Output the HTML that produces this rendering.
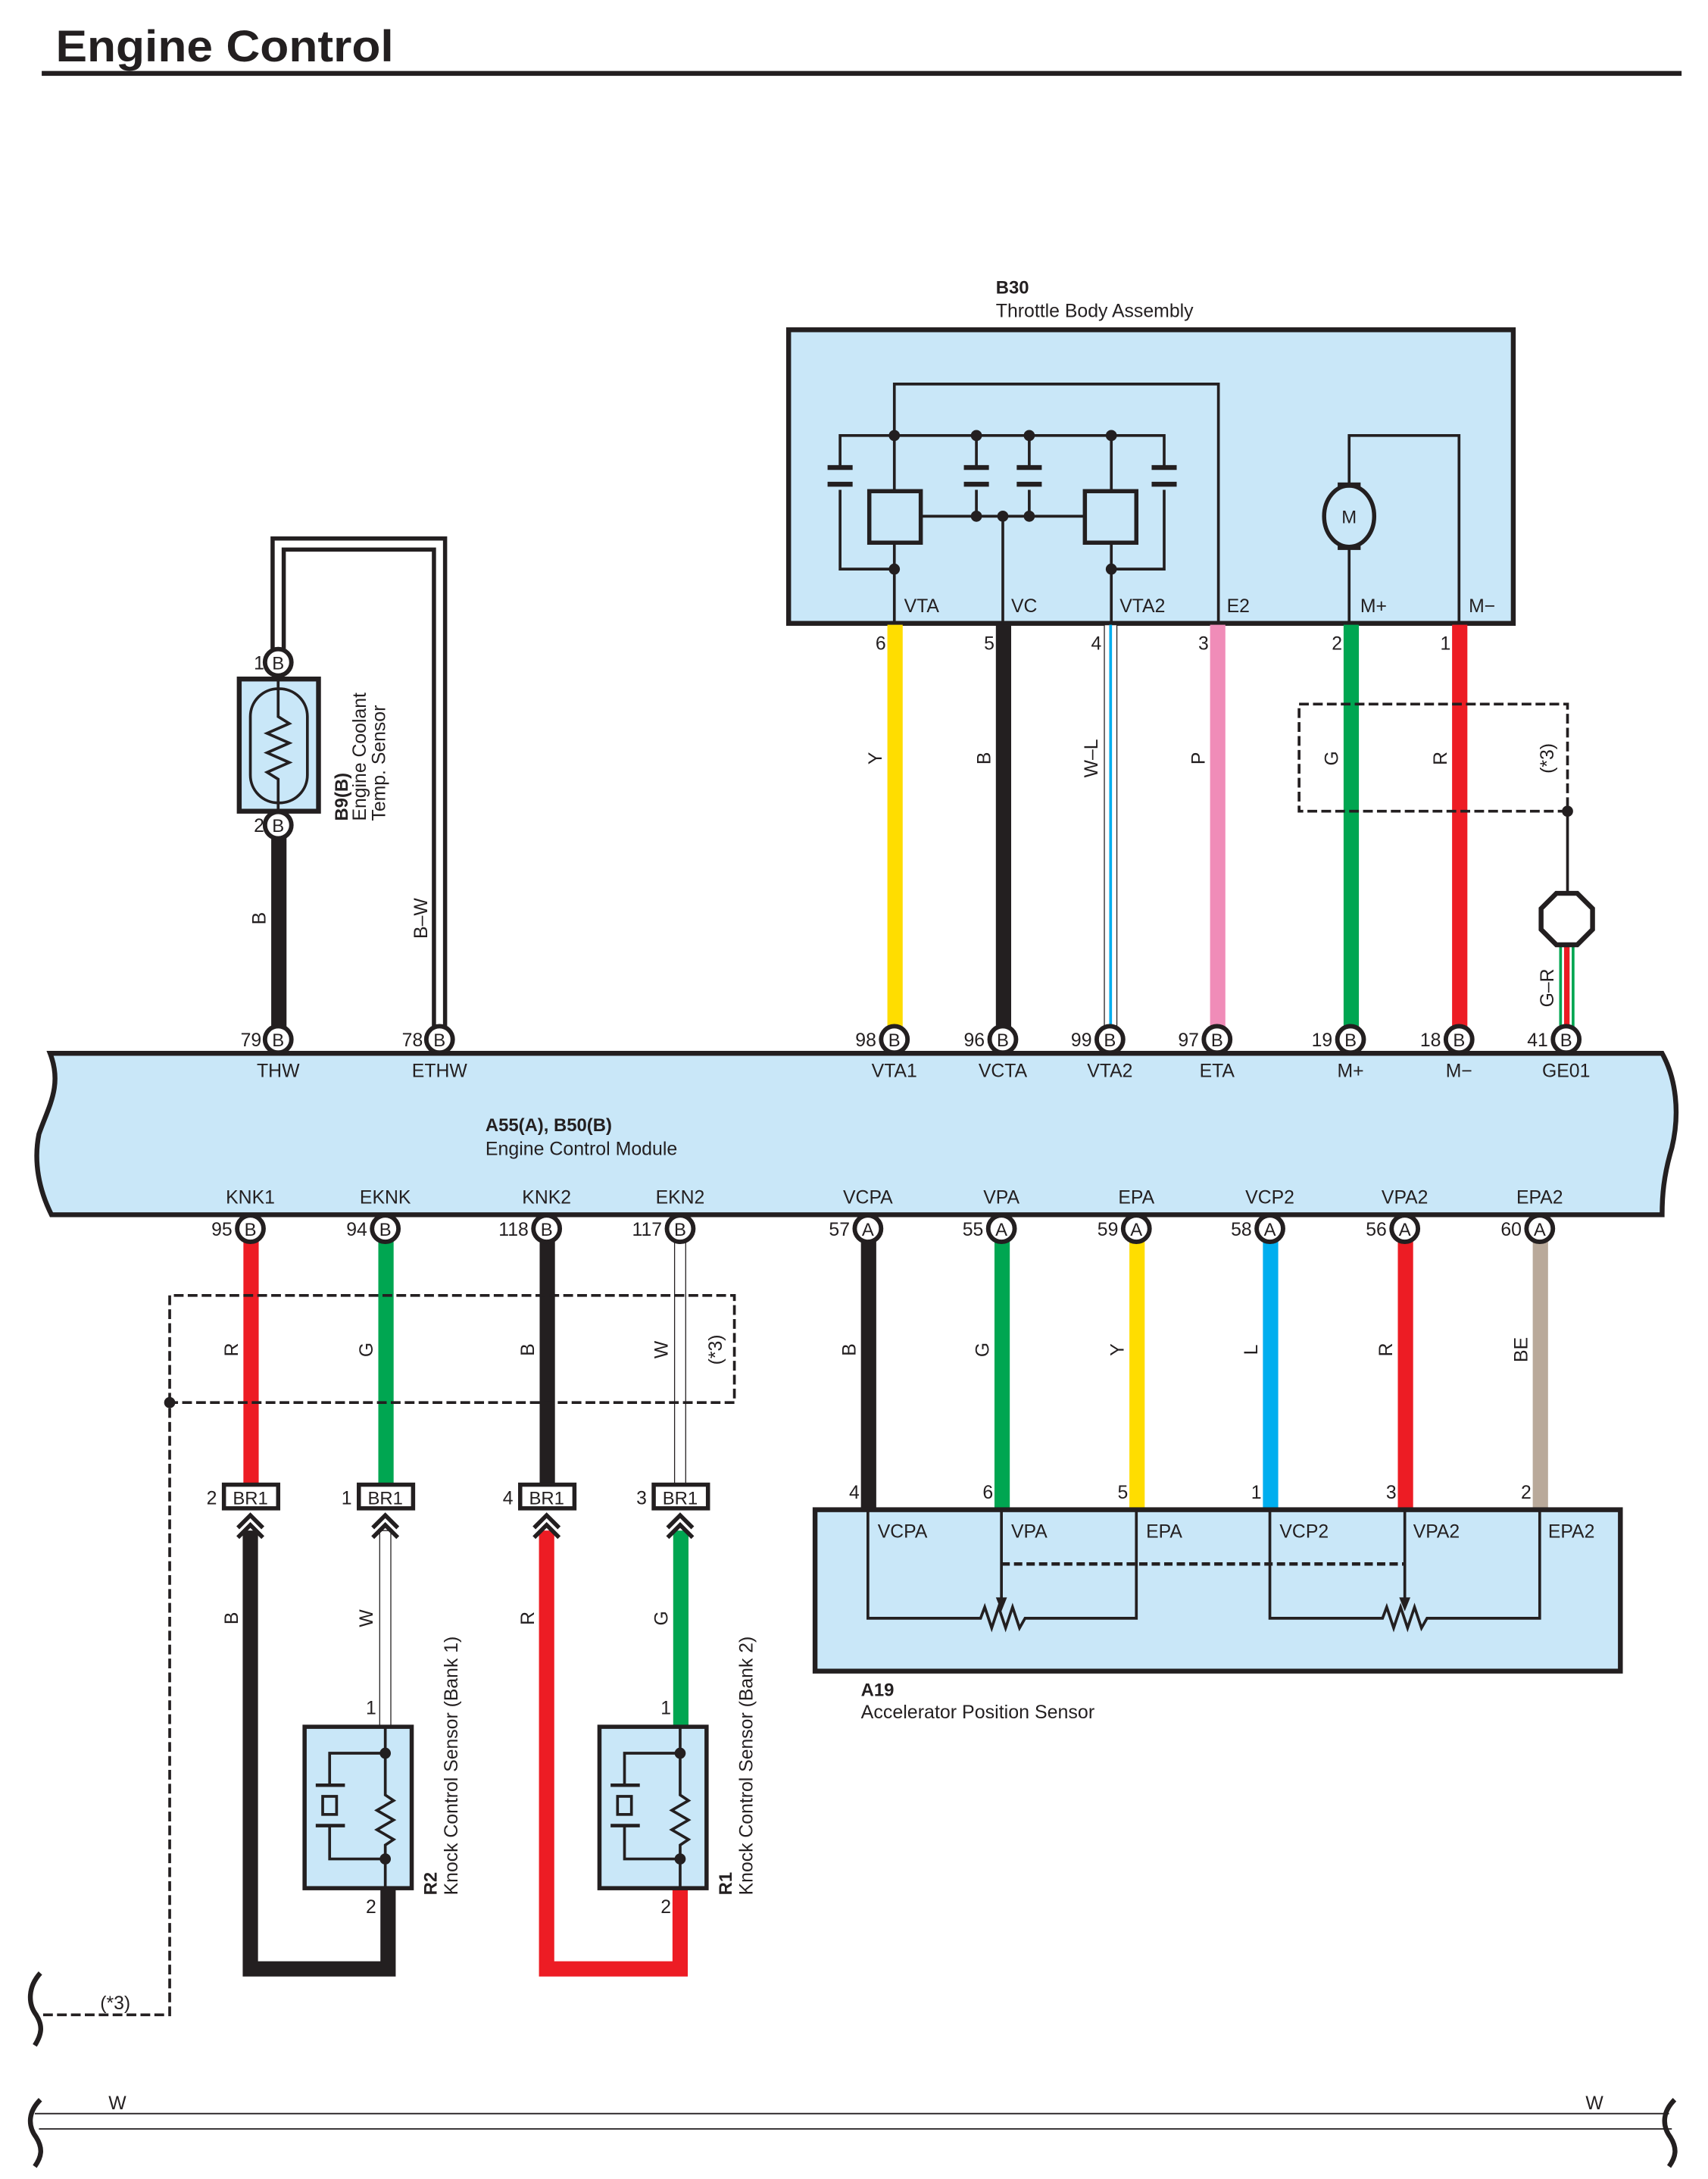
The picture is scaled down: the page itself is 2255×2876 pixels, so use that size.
<!DOCTYPE html>
<html><head><meta charset="utf-8"><style>
html,body{margin:0;padding:0;background:#fff;}
svg{display:block;}
text{font-family:"Liberation Sans",sans-serif;fill:#231f20;}
</style></head><body>
<svg width="2255" height="2876" viewBox="0 0 1228 1566" preserveAspectRatio="none" xmlns="http://www.w3.org/2000/svg">
<defs>
<g id="ch"><path d="M-9,8 L0,-1 L9,8 M-9,15 L0,6 L9,15" fill="none" stroke="#231f20" stroke-width="3"/></g>
</defs>
<!-- Title -->
<text x="40" y="44" font-size="32" font-weight="bold" textLength="243" lengthAdjust="spacingAndGlyphs">Engine Control</text>
<rect x="30" y="51" width="1179" height="3.5" fill="#231f20"/>

<!-- Throttle body -->
<text x="716" y="211" font-size="13" font-weight="bold">B30</text>
<text x="716" y="228" font-size="13.5" textLength="142" lengthAdjust="spacingAndGlyphs">Throttle Body Assembly</text>
<rect x="567" y="237" width="521" height="211" fill="#c9e7f8" stroke="#231f20" stroke-width="3.5"/>
<g fill="none" stroke="#231f20" stroke-width="2">
<path d="M643,448 V276 H876 V448"/>
<path d="M604,336 V313 H837 V336 M604,352 V409 H643 M837,352 V409 H799"/>
<path d="M702,313 V336 M702,352 V371 M740,313 V336 M740,352 V371"/>
<path d="M662,371 H779 M721,371 V448 M799,313 V448"/>
<path d="M970,349 V313 H1049 V448 M970,392 V448"/>
</g>
<g stroke="#231f20" stroke-width="3.5">
<path d="M595,336 H613 M595,348 H613 M693,336 H711 M693,348 H711 M731,336 H749 M731,348 H749 M828,336 H846 M828,348 H846"/>
</g>
<rect x="625" y="353" width="37" height="37" fill="#c9e7f8" stroke="#231f20" stroke-width="3"/>
<rect x="780" y="353" width="37" height="37" fill="#c9e7f8" stroke="#231f20" stroke-width="3"/>
<g fill="#231f20">
<circle cx="643" cy="313" r="4"/><circle cx="702" cy="313" r="4"/><circle cx="740" cy="313" r="4"/><circle cx="799" cy="313" r="4"/>
<circle cx="643" cy="409" r="4"/><circle cx="799" cy="409" r="4"/>
<circle cx="702" cy="371" r="4"/><circle cx="721" cy="371" r="4"/><circle cx="740" cy="371" r="4"/>
</g>
<rect x="963" y="348" width="14" height="46" fill="#c9e7f8" stroke="#231f20" stroke-width="2.5"/>
<ellipse cx="970" cy="371" rx="18" ry="22" fill="#c9e7f8" stroke="#231f20" stroke-width="3"/>
<text x="970" y="376" font-size="13" text-anchor="middle">M</text>
<g font-size="13.5">
<text x="650" y="440">VTA</text><text x="727" y="440">VC</text><text x="805" y="440">VTA2</text>
<text x="882" y="440">E2</text><text x="978" y="440">M+</text><text x="1056" y="440">M−</text>
</g>
<!-- throttle wires -->
<rect x="638" y="449" width="11" height="290" fill="#ffdd00"/>
<rect x="716" y="449" width="11" height="290" fill="#231f20"/>
<rect x="794" y="449" width="9" height="290" fill="#fff" stroke="#231f20" stroke-width="0.7"/>
<rect x="797.5" y="449" width="2" height="290" fill="#00aeef"/>
<rect x="870" y="449" width="11" height="290" fill="#f08cb8"/>
<rect x="966" y="449" width="11" height="290" fill="#00a651"/>
<rect x="1044" y="449" width="11" height="290" fill="#ed1c24"/>
<g font-size="13.5" text-anchor="end">
<text x="637" y="467">6</text><text x="715" y="467">5</text><text x="792" y="467">4</text>
<text x="869" y="467">3</text><text x="965" y="467">2</text><text x="1043" y="467">1</text>
</g>
<g font-size="13.5" text-anchor="middle">
<text transform="translate(634,545) rotate(-90)">Y</text>
<text transform="translate(712,545) rotate(-90)">B</text>
<text transform="translate(789,545) rotate(-90)">W–L</text>
<text transform="translate(866,545) rotate(-90)">P</text>
<text transform="translate(962,545) rotate(-90)">G</text>
<text transform="translate(1040,545) rotate(-90)">R</text>
<text transform="translate(1117,545) rotate(-90)">(*3)</text>
<text transform="translate(1117,710) rotate(-90)">G–R</text>
</g>
<rect x="934" y="506" width="193" height="77" fill="none" stroke="#231f20" stroke-width="2" stroke-dasharray="7,3"/>
<circle cx="1127" cy="583" r="4" fill="#231f20"/>
<path d="M1127,583 V641" stroke="#231f20" stroke-width="2"/>
<rect x="1121" y="680" width="11" height="60" fill="#00a651"/>
<rect x="1124.5" y="680" width="4" height="60" fill="#ed1c24"/>
<rect x="1123" y="680" width="1.5" height="60" fill="#fff"/><rect x="1128.5" y="680" width="1.5" height="60" fill="#fff"/>
<polygon points="1119,642 1134,642 1145,653 1145,668 1134,679 1119,679 1108,668 1108,653" fill="#fff" stroke="#231f20" stroke-width="3.5"/>

<!-- Coolant sensor -->
<path d="M200,467 V391 H316 V740" fill="none" stroke="#231f20" stroke-width="11"/>
<path d="M200,467 V391 H316 V740" fill="none" stroke="#fff" stroke-width="5"/>
<rect x="195" y="600" width="11" height="140" fill="#231f20"/>
<rect x="172" y="488" width="57" height="95" fill="#c9e7f8" stroke="#231f20" stroke-width="3.5"/>
<rect x="180" y="495" width="41" height="82" rx="20" fill="none" stroke="#231f20" stroke-width="2"/>
<path d="M200,488 V515 L208,520 L192,527 L208,534 L192,541 L208,548 L192,555 L200,560 V583" fill="none" stroke="#231f20" stroke-width="2"/>
<text x="190" y="481" font-size="13.5" text-anchor="end">1</text>
<text x="190" y="598" font-size="13.5" text-anchor="end">2</text>
<g font-size="13.5">
<text transform="translate(250,590) rotate(-90)" font-weight="bold" font-size="13">B9(B)</text>
<text transform="translate(263,590) rotate(-90)">Engine Coolant</text>
<text transform="translate(277,590) rotate(-90)">Temp.  Sensor</text>
<text transform="translate(191,660) rotate(-90)" text-anchor="middle">B</text>
<text transform="translate(307,660) rotate(-90)" text-anchor="middle">B–W</text>
</g>

<!-- ECM -->
<path d="M36,757 H1195 C1205,775 1208,800 1202,825 C1196,845 1195,860 1195,873 H37 C28,855 24,835 28,815 C35,795 45,780 36,757 Z" fill="#c9e7f8" stroke="#231f20" stroke-width="3.5"/>
<g font-size="13.5" text-anchor="middle">
<text x="200" y="774">THW</text><text x="316" y="774">ETHW</text><text x="643" y="774">VTA1</text><text x="721" y="774">VCTA</text>
<text x="798" y="774">VTA2</text><text x="875" y="774">ETA</text><text x="971" y="774">M+</text><text x="1049" y="774">M−</text><text x="1126" y="774">GE01</text>
<text x="180" y="865">KNK1</text><text x="277" y="865">EKNK</text><text x="393" y="865">KNK2</text><text x="489" y="865">EKN2</text>
<text x="624" y="865">VCPA</text><text x="720" y="865">VPA</text><text x="817" y="865">EPA</text><text x="913" y="865">VCP2</text><text x="1010" y="865">VPA2</text><text x="1107" y="865">EPA2</text>
</g>
<text x="349" y="813" font-size="13" font-weight="bold">A55(A), B50(B)</text>
<text x="349" y="830" font-size="13.5" textLength="138" lengthAdjust="spacingAndGlyphs">Engine Control Module</text>

<!-- knock wires top -->
<rect x="175" y="890" width="11" height="178" fill="#ed1c24"/>
<rect x="272" y="890" width="11" height="178" fill="#00a651"/>
<rect x="388" y="890" width="11" height="178" fill="#231f20"/>
<rect x="485" y="890" width="8" height="178" fill="#fff" stroke="#231f20" stroke-width="0.7"/>
<!-- accel wires -->
<rect x="619" y="890" width="11" height="196" fill="#231f20"/>
<rect x="715" y="890" width="11" height="196" fill="#00a651"/>
<rect x="812" y="890" width="11" height="196" fill="#ffdd00"/>
<rect x="908" y="890" width="11" height="196" fill="#00aeef"/>
<rect x="1005" y="890" width="11" height="196" fill="#ed1c24"/>
<rect x="1102" y="890" width="11" height="196" fill="#b9a99a"/>

<!-- connector circles -->
<g fill="#fff" stroke="#231f20" stroke-width="3.2">
<circle cx="200" cy="747" r="9.5"/><circle cx="316" cy="747" r="9.5"/><circle cx="643" cy="747" r="9.5"/><circle cx="721" cy="747" r="9.5"/>
<circle cx="798" cy="747" r="9.5"/><circle cx="875" cy="747" r="9.5"/><circle cx="971" cy="747" r="9.5"/><circle cx="1049" cy="747" r="9.5"/><circle cx="1126" cy="747" r="9.5"/>
<circle cx="200" cy="476" r="9.5"/><circle cx="200" cy="593" r="9.5"/>
<circle cx="180" cy="883" r="9.5"/><circle cx="277" cy="883" r="9.5"/><circle cx="393" cy="883" r="9.5"/><circle cx="489" cy="883" r="9.5"/>
<circle cx="624" cy="883" r="9.5"/><circle cx="720" cy="883" r="9.5"/><circle cx="817" cy="883" r="9.5"/><circle cx="913" cy="883" r="9.5"/><circle cx="1010" cy="883" r="9.5"/><circle cx="1107" cy="883" r="9.5"/>
</g>
<g font-size="13" text-anchor="middle">
<text x="200" y="752">B</text><text x="316" y="752">B</text><text x="643" y="752">B</text><text x="721" y="752">B</text><text x="798" y="752">B</text>
<text x="875" y="752">B</text><text x="971" y="752">B</text><text x="1049" y="752">B</text><text x="1126" y="752">B</text>
<text x="200" y="481">B</text><text x="200" y="598">B</text>
<text x="180" y="888">B</text><text x="277" y="888">B</text><text x="393" y="888">B</text><text x="489" y="888">B</text>
<text x="624" y="888">A</text><text x="720" y="888">A</text><text x="817" y="888">A</text><text x="913" y="888">A</text><text x="1010" y="888">A</text><text x="1107" y="888">A</text>
</g>
<g font-size="13.5" text-anchor="end">
<text x="188" y="752">79</text><text x="304" y="752">78</text><text x="630" y="752">98</text><text x="708" y="752">96</text><text x="785" y="752">99</text>
<text x="862" y="752">97</text><text x="958" y="752">19</text><text x="1036" y="752">18</text><text x="1113" y="752">41</text>
<text x="167" y="888">95</text><text x="264" y="888">94</text><text x="380" y="888">118</text><text x="476" y="888">117</text>
<text x="611" y="888">57</text><text x="707" y="888">55</text><text x="804" y="888">59</text><text x="900" y="888">58</text><text x="997" y="888">56</text><text x="1094" y="888">60</text>
</g>

<!-- dashed (*3) box lower -->
<path d="M122,1008 V931 H528 V1008 H122 V1448 H30" fill="none" stroke="#231f20" stroke-width="2" stroke-dasharray="7,3"/>
<circle cx="122" cy="1008" r="4" fill="#231f20"/>
<text transform="translate(519,970) rotate(-90)" font-size="13.5" text-anchor="middle">(*3)</text>
<text x="72" y="1444" font-size="13.5">(*3)</text>
<path d="M29,1418 C20,1428 20,1440 26,1448 C31,1456 30,1462 25,1470" fill="none" stroke="#231f20" stroke-width="3.5"/>

<g font-size="13.5" text-anchor="middle">
<text transform="translate(171,970) rotate(-90)">R</text>
<text transform="translate(268,970) rotate(-90)">G</text>
<text transform="translate(384,970) rotate(-90)">B</text>
<text transform="translate(480,970) rotate(-90)">W</text>
<text transform="translate(615,970) rotate(-90)">B</text>
<text transform="translate(711,970) rotate(-90)">G</text>
<text transform="translate(808,970) rotate(-90)">Y</text>
<text transform="translate(904,970) rotate(-90)">L</text>
<text transform="translate(1001,970) rotate(-90)">R</text>
<text transform="translate(1098,970) rotate(-90)">BE</text>
<text transform="translate(171,1163) rotate(-90)">B</text>
<text transform="translate(268,1163) rotate(-90)">W</text>
<text transform="translate(384,1163) rotate(-90)">R</text>
<text transform="translate(480,1163) rotate(-90)">G</text>
</g>

<!-- knock wires bottom -->
<path d="M180,1100 V1415 H279 V1357" fill="none" stroke="#231f20" stroke-width="11"/>
<path d="M393,1100 V1415 H489 V1357" fill="none" stroke="#ed1c24" stroke-width="11"/>
<rect x="273" y="1100" width="8" height="141" fill="#fff" stroke="#231f20" stroke-width="0.7"/>
<rect x="484" y="1100" width="11" height="141" fill="#00a651"/>

<!-- BR1 connectors -->
<g>
<rect x="161" y="1067" width="39" height="17" fill="#fff" stroke="#231f20" stroke-width="3"/>
<rect x="258" y="1067" width="39" height="17" fill="#fff" stroke="#231f20" stroke-width="3"/>
<rect x="374" y="1067" width="39" height="17" fill="#fff" stroke="#231f20" stroke-width="3"/>
<rect x="470" y="1067" width="39" height="17" fill="#fff" stroke="#231f20" stroke-width="3"/>
</g>
<g font-size="13" text-anchor="middle">
<text x="180" y="1081">BR1</text><text x="277" y="1081">BR1</text><text x="393" y="1081">BR1</text><text x="489" y="1081">BR1</text>
</g>
<g font-size="13.5" text-anchor="end">
<text x="156" y="1081">2</text><text x="253" y="1081">1</text><text x="369" y="1081">4</text><text x="465" y="1081">3</text>
</g>
<use href="#ch" x="180" y="1090"/><use href="#ch" x="277" y="1090"/><use href="#ch" x="393" y="1090"/><use href="#ch" x="489" y="1090"/>

<!-- knock sensors -->
<g id="ks">
<rect x="219" y="1241" width="77" height="116" fill="#c9e7f8" stroke="#231f20" stroke-width="3"/>
<path d="M277,1241 V1290 L283,1294 L271,1301 L283,1308 L271,1315 L283,1322 L277,1326 V1357" fill="none" stroke="#231f20" stroke-width="2"/>
<path d="M277,1260 H237 V1283 M277,1336 H237 V1312" fill="none" stroke="#231f20" stroke-width="2"/>
<path d="M227,1283 H248 M227,1312 H248" stroke="#231f20" stroke-width="2.5"/>
<rect x="232" y="1291" width="10" height="13" fill="none" stroke="#231f20" stroke-width="2"/>
<circle cx="277" cy="1260" r="4" fill="#231f20"/><circle cx="277" cy="1336" r="4" fill="#231f20"/>
</g>
<use href="#ks" x="212" y="0"/>
<g font-size="13.5">
<text x="263" y="1232">1</text><text x="263" y="1375">2</text>
<text x="475" y="1232">1</text><text x="475" y="1375">2</text>
<text transform="translate(314,1362) rotate(-90)" font-weight="bold" font-size="13">R2</text>
<text transform="translate(329,1362) rotate(-90)">Knock Control Sensor (Bank 1)</text>
<text transform="translate(526,1362) rotate(-90)" font-weight="bold" font-size="13">R1</text>
<text transform="translate(541,1362) rotate(-90)">Knock Control Sensor (Bank 2)</text>
</g>

<!-- Accelerator sensor -->
<g font-size="13.5" text-anchor="end">
<text x="618" y="1077">4</text><text x="714" y="1077">6</text><text x="811" y="1077">5</text><text x="907" y="1077">1</text><text x="1004" y="1077">3</text><text x="1101" y="1077">2</text>
</g>
<rect x="586" y="1085" width="579" height="116" fill="#c9e7f8" stroke="#231f20" stroke-width="3.5"/>
<g fill="none" stroke="#231f20" stroke-width="2">
<path d="M624,1085 V1163 H705 L708,1155 L713,1170 L718,1155 L723,1170 L728,1155 L733,1170 L737,1163 H817 V1085"/>
<path d="M913,1085 V1163 H994 L997,1155 L1002,1170 L1007,1155 L1012,1170 L1017,1155 L1022,1170 L1026,1163 H1107 V1085"/>
<path d="M720,1085 V1150 M1010,1085 V1150"/>
<path d="M720,1124 H1010" stroke-width="2.5" stroke-dasharray="6,3"/>
</g>
<polygon points="716,1148 724,1148 720,1158" fill="#231f20"/>
<polygon points="1006,1148 1014,1148 1010,1158" fill="#231f20"/>
<g font-size="13.5">
<text x="631" y="1105">VCPA</text><text x="727" y="1105">VPA</text><text x="824" y="1105">EPA</text>
<text x="920" y="1105">VCP2</text><text x="1016" y="1105">VPA2</text><text x="1113" y="1105">EPA2</text>
</g>
<text x="619" y="1219" font-size="13" font-weight="bold">A19</text>
<text x="619" y="1235" font-size="13.5" textLength="168" lengthAdjust="spacingAndGlyphs">Accelerator Position Sensor</text>

<!-- bottom W wire -->
<path d="M25,1519 H1200 M28,1530 H1202" stroke="#231f20" stroke-width="1"/>
<text x="78" y="1516" font-size="13.5">W</text>
<text x="1140" y="1516" font-size="13.5">W</text>
<path d="M29,1509 C20,1518 20,1528 26,1536 C31,1544 30,1550 25,1557" fill="none" stroke="#231f20" stroke-width="3.5"/>
<path d="M1204,1509 C1195,1518 1195,1528 1201,1536 C1206,1544 1205,1550 1200,1557" fill="none" stroke="#231f20" stroke-width="3.5"/>
</svg>
</body></html>
